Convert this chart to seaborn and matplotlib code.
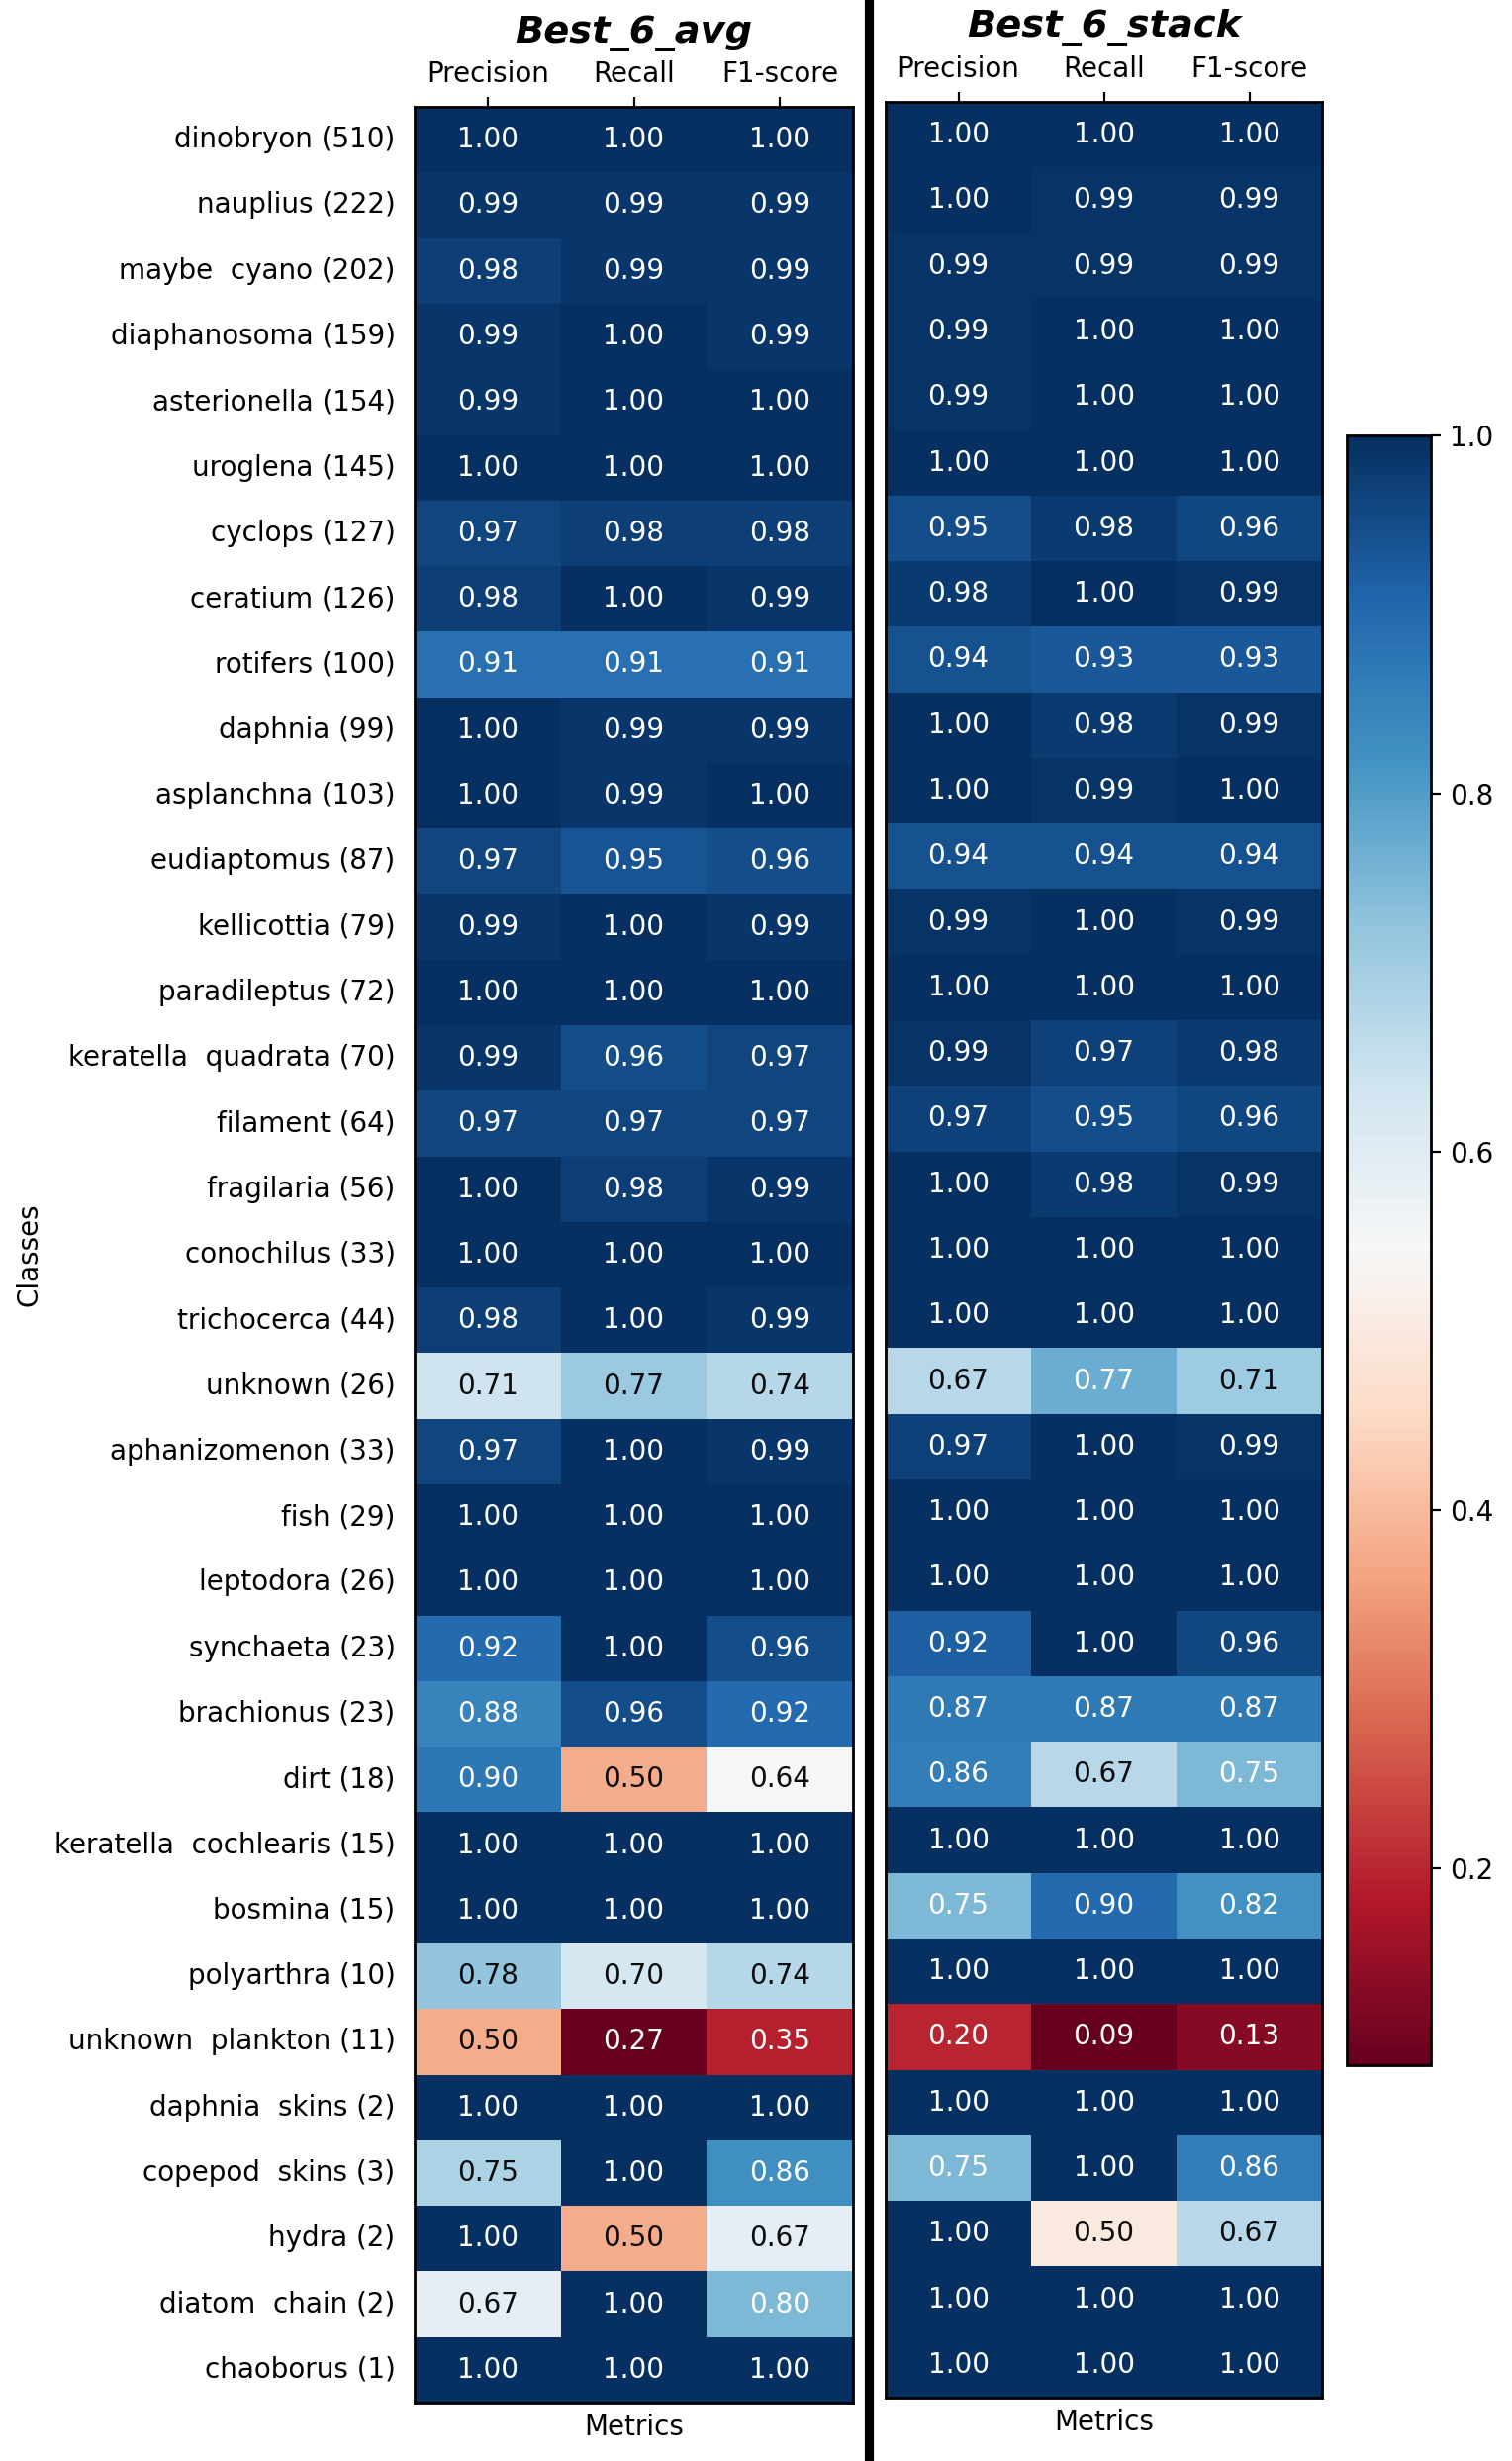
import numpy as np
import pandas as pd
import matplotlib
matplotlib.use("Agg")
import matplotlib.pyplot as plt
from matplotlib.lines import Line2D
import seaborn as sns
from seaborn.utils import relative_luminance

classes = [
    "dinobryon (510)", "nauplius (222)", "maybe  cyano (202)", "diaphanosoma (159)",
    "asterionella (154)", "uroglena (145)", "cyclops (127)", "ceratium (126)",
    "rotifers (100)", "daphnia (99)", "asplanchna (103)", "eudiaptomus (87)",
    "kellicottia (79)", "paradileptus (72)", "keratella  quadrata (70)", "filament (64)",
    "fragilaria (56)", "conochilus (33)", "trichocerca (44)", "unknown (26)",
    "aphanizomenon (33)", "fish (29)", "leptodora (26)", "synchaeta (23)",
    "brachionus (23)", "dirt (18)", "keratella  cochlearis (15)", "bosmina (15)",
    "polyarthra (10)", "unknown  plankton (11)", "daphnia  skins (2)", "copepod  skins (3)",
    "hydra (2)", "diatom  chain (2)", "chaoborus (1)",
]
metrics = ["Precision", "Recall", "F1-score"]

avg_precision = [1.00, 0.99, 0.98, 0.99, 0.99, 1.00, 0.97, 0.98, 0.91, 1.00, 1.00, 0.97,
                 0.99, 1.00, 0.99, 0.97, 1.00, 1.00, 0.98, 0.71, 0.97, 1.00, 1.00, 0.92,
                 0.88, 0.90, 1.00, 1.00, 0.78, 0.50, 1.00, 0.75, 1.00, 0.67, 1.00]
avg_recall = [1.00, 0.99, 0.99, 1.00, 1.00, 1.00, 0.98, 1.00, 0.91, 0.99, 0.99, 0.95,
              1.00, 1.00, 0.96, 0.97, 0.98, 1.00, 1.00, 0.77, 1.00, 1.00, 1.00, 1.00,
              0.96, 0.50, 1.00, 1.00, 0.70, 0.27, 1.00, 1.00, 0.50, 1.00, 1.00]
avg_f1 = [1.00, 0.99, 0.99, 0.99, 1.00, 1.00, 0.98, 0.99, 0.91, 0.99, 1.00, 0.96,
          0.99, 1.00, 0.97, 0.97, 0.99, 1.00, 0.99, 0.74, 0.99, 1.00, 1.00, 0.96,
          0.92, 0.64, 1.00, 1.00, 0.74, 0.35, 1.00, 0.86, 0.67, 0.80, 1.00]

stack_precision = [1.00, 1.00, 0.99, 0.99, 0.99, 1.00, 0.95, 0.98, 0.94, 1.00, 1.00, 0.94,
                   0.99, 1.00, 0.99, 0.97, 1.00, 1.00, 1.00, 0.67, 0.97, 1.00, 1.00, 0.92,
                   0.87, 0.86, 1.00, 0.75, 1.00, 0.20, 1.00, 0.75, 1.00, 1.00, 1.00]
stack_recall = [1.00, 0.99, 0.99, 1.00, 1.00, 1.00, 0.98, 1.00, 0.93, 0.98, 0.99, 0.94,
                1.00, 1.00, 0.97, 0.95, 0.98, 1.00, 1.00, 0.77, 1.00, 1.00, 1.00, 1.00,
                0.87, 0.67, 1.00, 0.90, 1.00, 0.09, 1.00, 1.00, 0.50, 1.00, 1.00]
stack_f1 = [1.00, 0.99, 0.99, 1.00, 1.00, 1.00, 0.96, 0.99, 0.93, 0.99, 1.00, 0.94,
            0.99, 1.00, 0.98, 0.96, 0.99, 1.00, 1.00, 0.71, 0.99, 1.00, 1.00, 0.96,
            0.87, 0.75, 1.00, 0.82, 1.00, 0.13, 1.00, 0.86, 0.67, 1.00, 1.00]

df_avg = pd.DataFrame({"Precision": avg_precision, "Recall": avg_recall, "F1-score": avg_f1},
                      index=classes)[metrics]
df_stack = pd.DataFrame({"Precision": stack_precision, "Recall": stack_recall, "F1-score": stack_f1},
                        index=classes)[metrics]

plt.rcParams["font.family"] = ["DejaVu Sans"]
plt.rcParams["font.size"] = 10

W, H = 1528, 2487
fig = plt.figure(figsize=(W / 200, H / 200), dpi=200)

def frac(x0, y0, x1, y1):
    return [x0 / W, 1 - y1 / H, (x1 - x0) / W, (y1 - y0) / H]

ax1 = fig.add_axes(frac(419, 108, 862, 2428))
ax2 = fig.add_axes(frac(895, 103, 1336, 2423))
cax = fig.add_axes(frac(1361, 440, 1446, 2087))

cmap = plt.get_cmap("RdBu")
sns.heatmap(df_avg, ax=ax1, cmap=cmap, annot=True, fmt=".2f", cbar=False,
            annot_kws={"fontsize": 10})
sns.heatmap(df_stack, ax=ax2, cmap=cmap, annot=True, fmt=".2f", cbar=True, cbar_ax=cax,
            yticklabels=False, annot_kws={"fontsize": 10})

# text colour threshold tuned to the reference (light-blue cells get white text)
thr = 0.5 * (relative_luminance(cmap(0.699)) + relative_luminance(cmap(0.726)))
for ax in (ax1, ax2):
    mesh = ax.collections[0]
    mesh.update_scalarmappable()
    fcs = mesh.get_facecolors()
    for txt, fc in zip(ax.texts, fcs):
        lum = relative_luminance(fc)
        txt.set_color(".05" if lum > thr else "w")

for ax, title in [(ax1, "Best_6_avg"), (ax2, "Best_6_stack")]:
    ax.xaxis.tick_top()
    ax.tick_params(axis="x", top=True, bottom=False, labeltop=True, labelbottom=False,
                   length=3.5, labelsize=10)
    ax.set_xticklabels(metrics, rotation=0)
    ax.set_xlabel("Metrics", fontsize=10)
    ax.xaxis.set_label_position("bottom")
    ax.set_title(title, fontsize=13.8, fontweight="bold", fontstyle="italic", pad=6.5)
    for s in ax.spines.values():
        s.set_visible(True)
        s.set_linewidth(1.0)
        s.set_color("black")

ax1.set_yticklabels(classes, rotation=0, fontsize=10)
ax1.tick_params(axis="y", length=3.5, color=(0, 0, 0, 0))
ax1.set_ylabel("Classes", fontsize=10)
ax2.set_ylabel("")
ax2.tick_params(axis="y", left=False, length=0)

cb = ax2.collections[0].colorbar
cb.outline.set_visible(True)
cb.outline.set_linewidth(1.0)
cb.outline.set_edgecolor("black")
cb.ax.tick_params(labelsize=10, length=3.5)

fig.add_artist(Line2D([878 / W, 878 / W], [0, 1 - 4 / H], color="black", lw=3.3,
                      transform=fig.transFigure))

fig.savefig("out.png", dpi=200)
